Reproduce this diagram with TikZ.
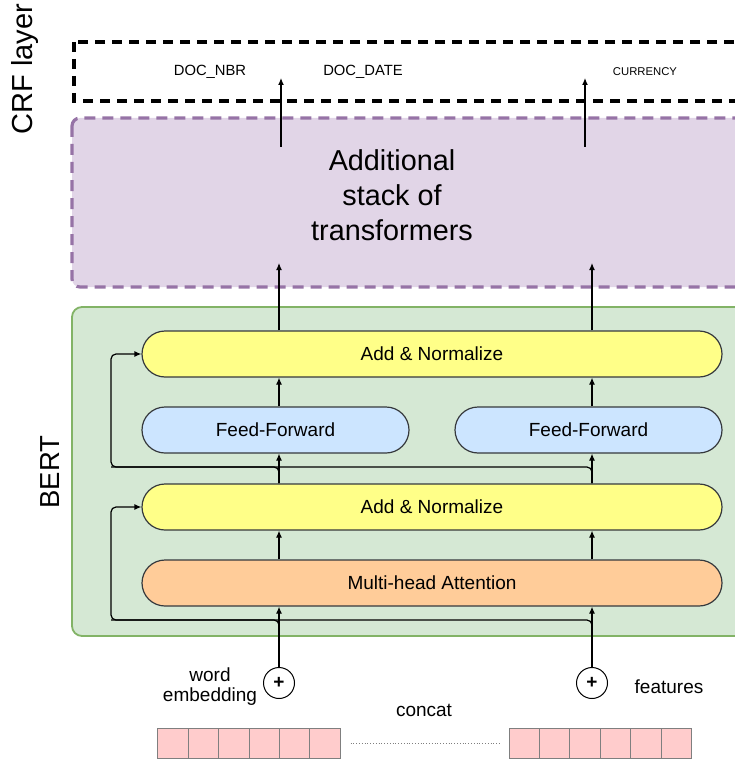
\documentclass[tikz,border=0pt]{standalone}
\usepackage{fontspec}
\setmainfont{Liberation Sans}
\usetikzlibrary{arrows.meta}
\definecolor{edge}{HTML}{36393D}
\definecolor{anyellow}{HTML}{FFFF88}
\definecolor{ffblue}{HTML}{CCE5FF}
\definecolor{mhaorange}{HTML}{FFCC99}
\definecolor{bertgreen}{HTML}{D5E8D4}
\definecolor{bertedge}{HTML}{82B366}
\definecolor{stackfill}{HTML}{E1D5E7}
\definecolor{stackedge}{HTML}{9673A6}
\definecolor{cellpink}{HTML}{FFCCCC}
\definecolor{cellgray}{HTML}{7F7F7F}

\begin{document}
\begin{tikzpicture}[x=1pt, y=-1pt, >={Latex[length=7pt,width=6pt]}, line width=1.2pt,
    font=\fontsize{19}{20}\selectfont,
    pill/.style={draw=edge, rounded corners=23pt, minimum height=46pt, inner sep=0pt},
    wide/.style={pill, minimum width=580pt},
    half/.style={pill, minimum width=267pt, fill=ffblue},
    plus/.style={draw, circle, minimum size=31pt, inner sep=0pt, line width=1pt},
    cell/.style={draw=cellgray, fill=cellpink, line width=0.8pt, minimum width=30.4pt, minimum height=30pt, inner sep=0pt},
    tag/.style={font=\fontsize{14.8}{17}\selectfont}]
  \useasboundingbox (0,0) rectangle (735,762);
  \clip (0,0) rectangle (735,762);

  % outer layers
  \draw[line width=3.5pt, dash pattern=on 10pt off 7pt] (74,42) rectangle (770,101);
  \draw[draw=stackedge, fill=stackfill, line width=3.2pt, dash pattern=on 11pt off 7pt, rounded corners=8pt] (72,118) rectangle (770,287);
  \draw[draw=bertedge, fill=bertgreen, line width=1.8pt, rounded corners=10pt] (72,307) rectangle (770,636);

  \node[rotate=90, font=\fontsize{29}{30}\selectfont] (crflbl) at (25,69) {CRF layer};
  \node[rotate=90, font=\fontsize{27.5}{30}\selectfont] (bertlbl) at (50,472) {BERT};

  \node[tag] (nbr) at (210,72) {DOC\_NBR};
  \node[tag] (date) at (363,72) {DOC\_DATE};
  \node[font=\fontsize{11.3}{13}\selectfont] (cur) at (645,72) {CURRENCY};

  \node[align=center, font=\fontsize{28.8}{35}\selectfont] (stack) at (392,195) {Additional\\stack of\\transformers};

  % BERT block
  \node[wide, fill=anyellow] (an2) at (432,354) {Add \& Normalize};
  \node[half] (ff1) at (275.5,430) {Feed-Forward};
  \node[half] (ff2) at (588.5,430) {Feed-Forward};
  \node[wide, fill=anyellow] (an1) at (432,507) {Add \& Normalize};
  \node[wide, fill=mhaorange] (mha) at (432,583) {Multi-head Attention};

  \node[plus] (pl) at (279,683) {\textbf{+}};
  \node[plus] (pr) at (592,683) {\textbf{+}};

  \coordinate (sb) at (0,263);
  \coordinate (r1) at (111,620);
  \coordinate (r2) at (111,467);
  \coordinate (o1) at (281,147);
  \coordinate (t1) at (281,78);
  \coordinate (o2) at (585,147);
  \coordinate (t2) at (585,78);

  \foreach \c in {pl,pr} {
    \draw[->] (\c) -- (\c |- mha.south);
    \draw[->] (\c |- mha.north) -- (\c |- an1.south);
    \draw[->] (\c |- an1.north) -- (\c |- ff1.south);
    \draw[->] (\c |- ff1.north) -- (\c |- an2.south);
    \draw[->] (\c |- an2.north) -- (\c |- sb);
  }
  \draw[->] (o1) -- (t1);
  \draw[->] (o2) -- (t2);

  % residual connections
  \draw[->, rounded corners=5pt] (pr.north) |- (r1) |- (an1.west);
  \draw[rounded corners=5pt] (pl.north) |- (r1);
  \draw[->, rounded corners=5pt] (pr |- an1.north) |- (r2) |- (an2.west);
  \draw[rounded corners=5pt] (pl |- an1.north) |- (r2);

  % inputs
  \node[align=center] (word) at (210,687) {word\\embedding};
  \node (feat) at (669,687) {features};
  \node (concat) at (424,710) {concat};
  \foreach \i in {0,...,5} {
    \node[cell] (a\i) at (173+30.4*\i,743) {};
    \node[cell] (b\i) at (524.1+30.4*\i,743) {};
  }
  \draw[cellgray, line width=0.8pt, dotted] ([xshift=10pt]a5.east) -- ([xshift=-7pt]b0.west);
\end{tikzpicture}
\end{document}
